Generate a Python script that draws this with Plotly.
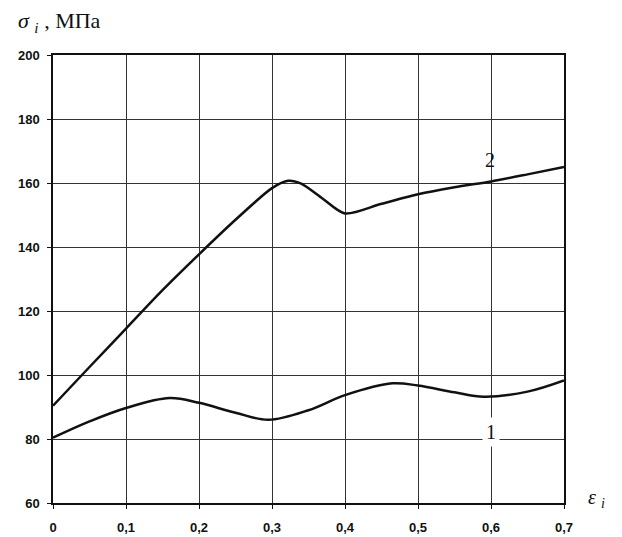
import plotly.graph_objects as go

# Curve 1 (lower)
c1_x = [0, 0.05, 0.1, 0.16, 0.2, 0.25, 0.295, 0.35, 0.4, 0.465, 0.5, 0.55, 0.59, 0.65, 0.7]
c1_y = [80.4, 85.5, 89.7, 92.8, 91.3, 88.2, 86.0, 89.0, 93.7, 97.4, 96.7, 94.6, 93.2, 94.8, 98.3]

# Curve 2 (upper)
c2_x = [0, 0.05, 0.1, 0.15, 0.2, 0.25, 0.3, 0.322, 0.34, 0.37, 0.40, 0.45, 0.5, 0.55, 0.6, 0.65, 0.7]
c2_y = [90.4, 102.5, 114.5, 126.5, 137.7, 148.5, 158.4, 160.7, 159.8, 155.0, 150.5, 153.5, 156.5, 158.7, 160.5, 162.7, 165.0]

x_ticks = [0, 0.1, 0.2, 0.3, 0.4, 0.5, 0.6, 0.7]
x_labels = ["0", "0,1", "0,2", "0,3", "0,4", "0,5", "0,6", "0,7"]
y_ticks = [60, 80, 100, 120, 140, 160, 180, 200]

curve_labels = ["1", "2"]
label_pos = [(0.6, 82.3), (0.599, 167.3)]

fig = go.Figure()
fig.add_trace(go.Scatter(x=c1_x, y=c1_y, mode="lines", line=dict(color="#111", width=2.5, shape="spline", smoothing=1.0), showlegend=False))
fig.add_trace(go.Scatter(x=c2_x, y=c2_y, mode="lines", line=dict(color="#111", width=2.5, shape="spline", smoothing=0.8), showlegend=False))

for lab, (lx, ly) in zip(curve_labels, label_pos):
    fig.add_annotation(x=lx, y=ly, text=lab, showarrow=False,
                       font=dict(family="Liberation Serif", size=20, color="#111"),
                       bgcolor="white" if lab == "1" else "rgba(0,0,0,0)", borderpad=3)

tickfont = dict(family="Liberation Sans", size=13, color="#111", weight="bold")
fig.update_xaxes(range=[0, 0.7], tickvals=x_ticks, ticktext=x_labels, showgrid=True,
                 gridcolor="#333", gridwidth=1, showline=True, linecolor="#111", linewidth=1.5,
                 mirror=True, ticks="outside", ticklen=4, tickcolor="#111", tickfont=tickfont,
                 zeroline=False, automargin=False, ticklabelstandoff=8)
fig.update_yaxes(range=[60, 200], tickvals=y_ticks, showgrid=True,
                 gridcolor="#333", gridwidth=1, showline=True, linecolor="#111", linewidth=1.5,
                 mirror=True, ticks="outside", ticklen=4, tickcolor="#111", tickfont=tickfont,
                 zeroline=False, automargin=False, ticklabelstandoff=5)

fig.add_annotation(xref="paper", yref="paper", x=0, xshift=-37, y=1.0, yshift=33, xanchor="left", yanchor="middle",
                   text="<i>σ</i> <sub><i>i</i></sub> , МПа", showarrow=False,
                   font=dict(family="Liberation Serif", size=22, color="#111"))
fig.add_annotation(xref="paper", yref="paper", x=1.0, y=0.0, xshift=22, yshift=5, xanchor="left", yanchor="middle",
                   text="<i>ε</i> <sub><i>i</i></sub>", showarrow=False,
                   font=dict(family="Liberation Serif", size=20, color="#111"))

fig.update_layout(width=622, height=537, margin=dict(l=45, r=66, t=47, b=42),
                  paper_bgcolor="white", plot_bgcolor="white")
fig.write_html("out.html")
